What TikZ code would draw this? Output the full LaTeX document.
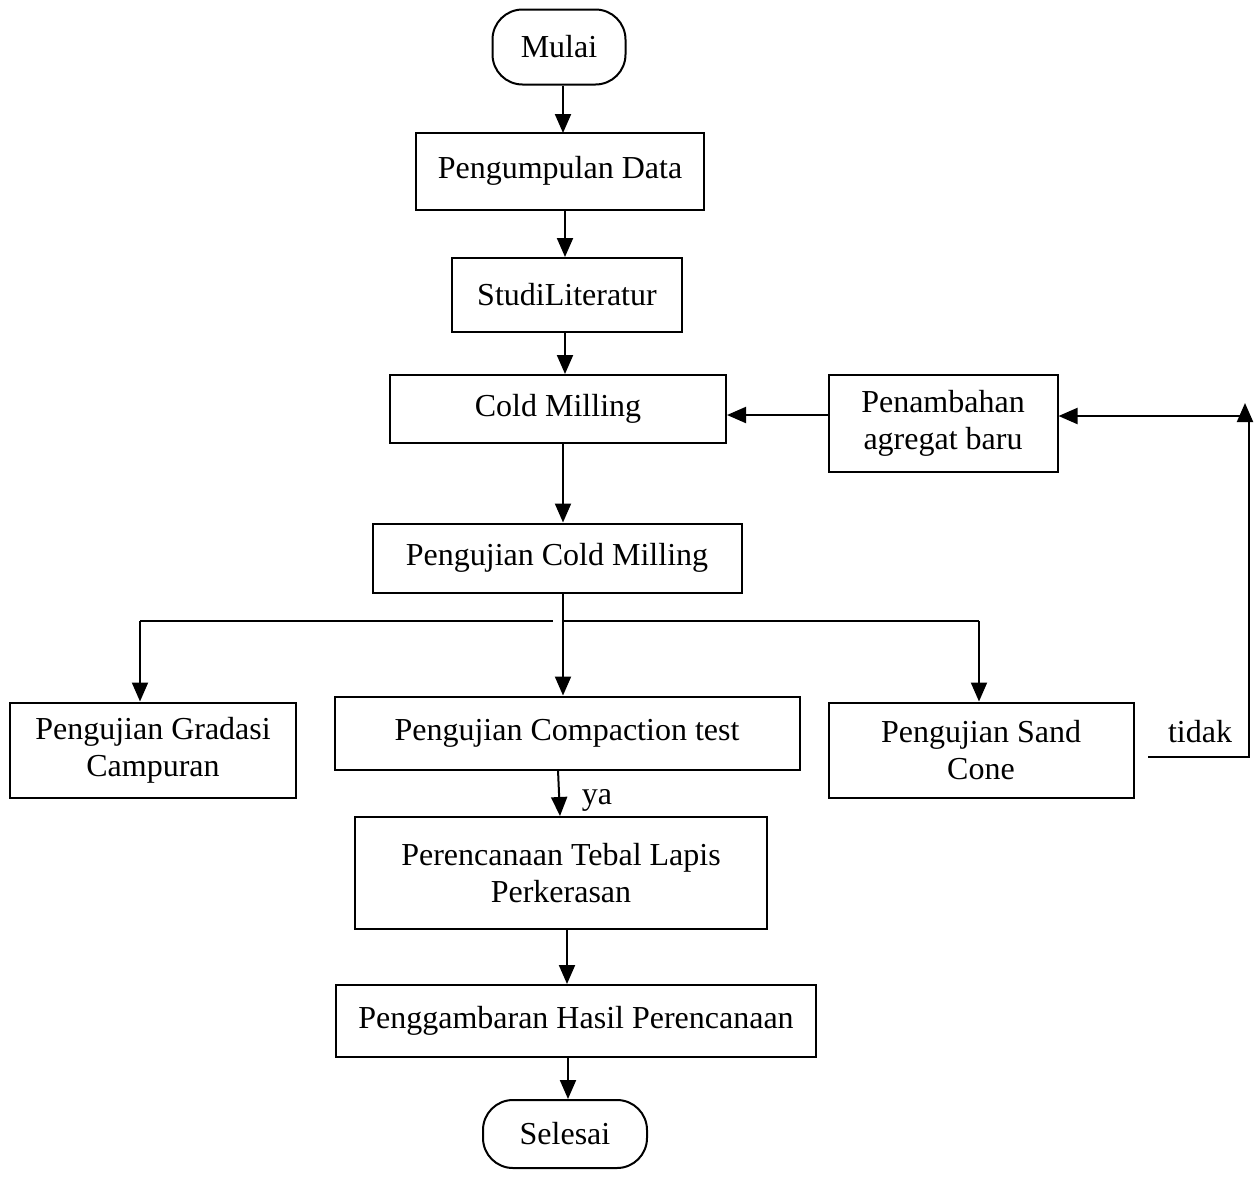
\documentclass[tikz,border=0pt]{standalone}
\usepackage{fontspec}
\setmainfont{Liberation Serif}
\usetikzlibrary{arrows.meta}

\begin{document}
\begin{tikzpicture}[line join=miter,>={Triangle[length=19pt,width=16pt]},x=1pt,y=-1pt,
  kotak/.style={draw,line width=2pt,align=center,inner sep=0pt,font=\fontsize{32}{37}\selectfont},
  bulat/.style={kotak,rounded corners=30pt},
  panah/.style={->,line width=2pt},
  garis/.style={line width=2pt},
  teks/.style={inner sep=0pt,font=\fontsize{32}{37}\selectfont}]
\useasboundingbox (0,0) rectangle (1258,1176);
% kotak-kotak
\node[bulat,minimum width=133pt,minimum height=75pt] (mulai) at (559,47) {Mulai};
\node[kotak,minimum width=288pt,minimum height=77pt] (data) at (560,171) {Pengumpulan Data};
\node[kotak,minimum width=230pt,minimum height=74pt] (studi) at (567,295) {StudiLiteratur};
\node[kotak,minimum width=336pt,minimum height=68pt] (cold) at (558,409) {Cold Milling};
\node[kotak,minimum width=229pt,minimum height=97pt] (tambah) at (943,423) {Penambahan\\agregat baru};
\node[kotak,minimum width=369pt,minimum height=69pt] (uji) at (557,558) {Pengujian Cold Milling};
\node[kotak,minimum width=286pt,minimum height=95pt] (gradasi) at (153,750) {Pengujian Gradasi\\Campuran};
\node[kotak,minimum width=465pt,minimum height=73pt] (compact) at (567,733) {Pengujian Compaction test};
\node[kotak,minimum width=305pt,minimum height=95pt] (sand) at (981,750) {Pengujian Sand\\Cone};
\node[kotak,minimum width=412pt,minimum height=112pt] (tebal) at (561,873) {Perencanaan Tebal Lapis\\Perkerasan};
\node[kotak,minimum width=480pt,minimum height=72pt] (gambar) at (576,1021) {Penggambaran Hasil Perencanaan};
\node[bulat,minimum width=164pt,minimum height=68pt] (selesai) at (565,1134) {Selesai};
\node[teks] (tidak) at (1200,732) {tidak};
\node[teks] (ya) at (597,800) {ya};
% titik bantu
\coordinate (cabang) at (563,621);
\coordinate (kiri) at (140,621);
\coordinate (kanan) at (979,621);
\coordinate (ujungtidak) at (1148,757);
\coordinate (pojok) at (1245,403);
\coordinate (atas) at (1249,416);
% panah
\draw[panah] (mulai.south -| 563,0) -- (563,133);
\draw[panah] (565,210) -- (studi.north -| 565,0);
\draw[panah] (565,332) -- (cold.north -| 565,0);
\draw[panah] (cold.south -| cabang) -- (uji.north -| cabang);
\draw[panah] (tambah.west |- 0,415) -- (cold.east |- 0,415);
\draw[panah] (cabang |- uji.south) -- (cabang |- compact.north);
\draw[garis] (kiri) -- ([xshift=-10pt]cabang);
\draw[garis] (cabang) -- (kanan);
\draw[panah] (kiri) -- (kiri |- gradasi.north);
\draw[panah] (kanan) -- (kanan |- sand.north);
\draw[garis] (ujungtidak) -- (1249,757) -- (atas);
\draw[panah] (1245,418) -- (pojok);
\draw[panah] (atas) -- (tambah.east |- atas);
\draw[panah] (558,770) -- (tebal.north -| 560,0);
\draw[panah] (567,929) -- (gambar.north -| 567,0);
\draw[panah] (568,1057) -- (selesai.north -| 568,0);
\end{tikzpicture}
\end{document}
